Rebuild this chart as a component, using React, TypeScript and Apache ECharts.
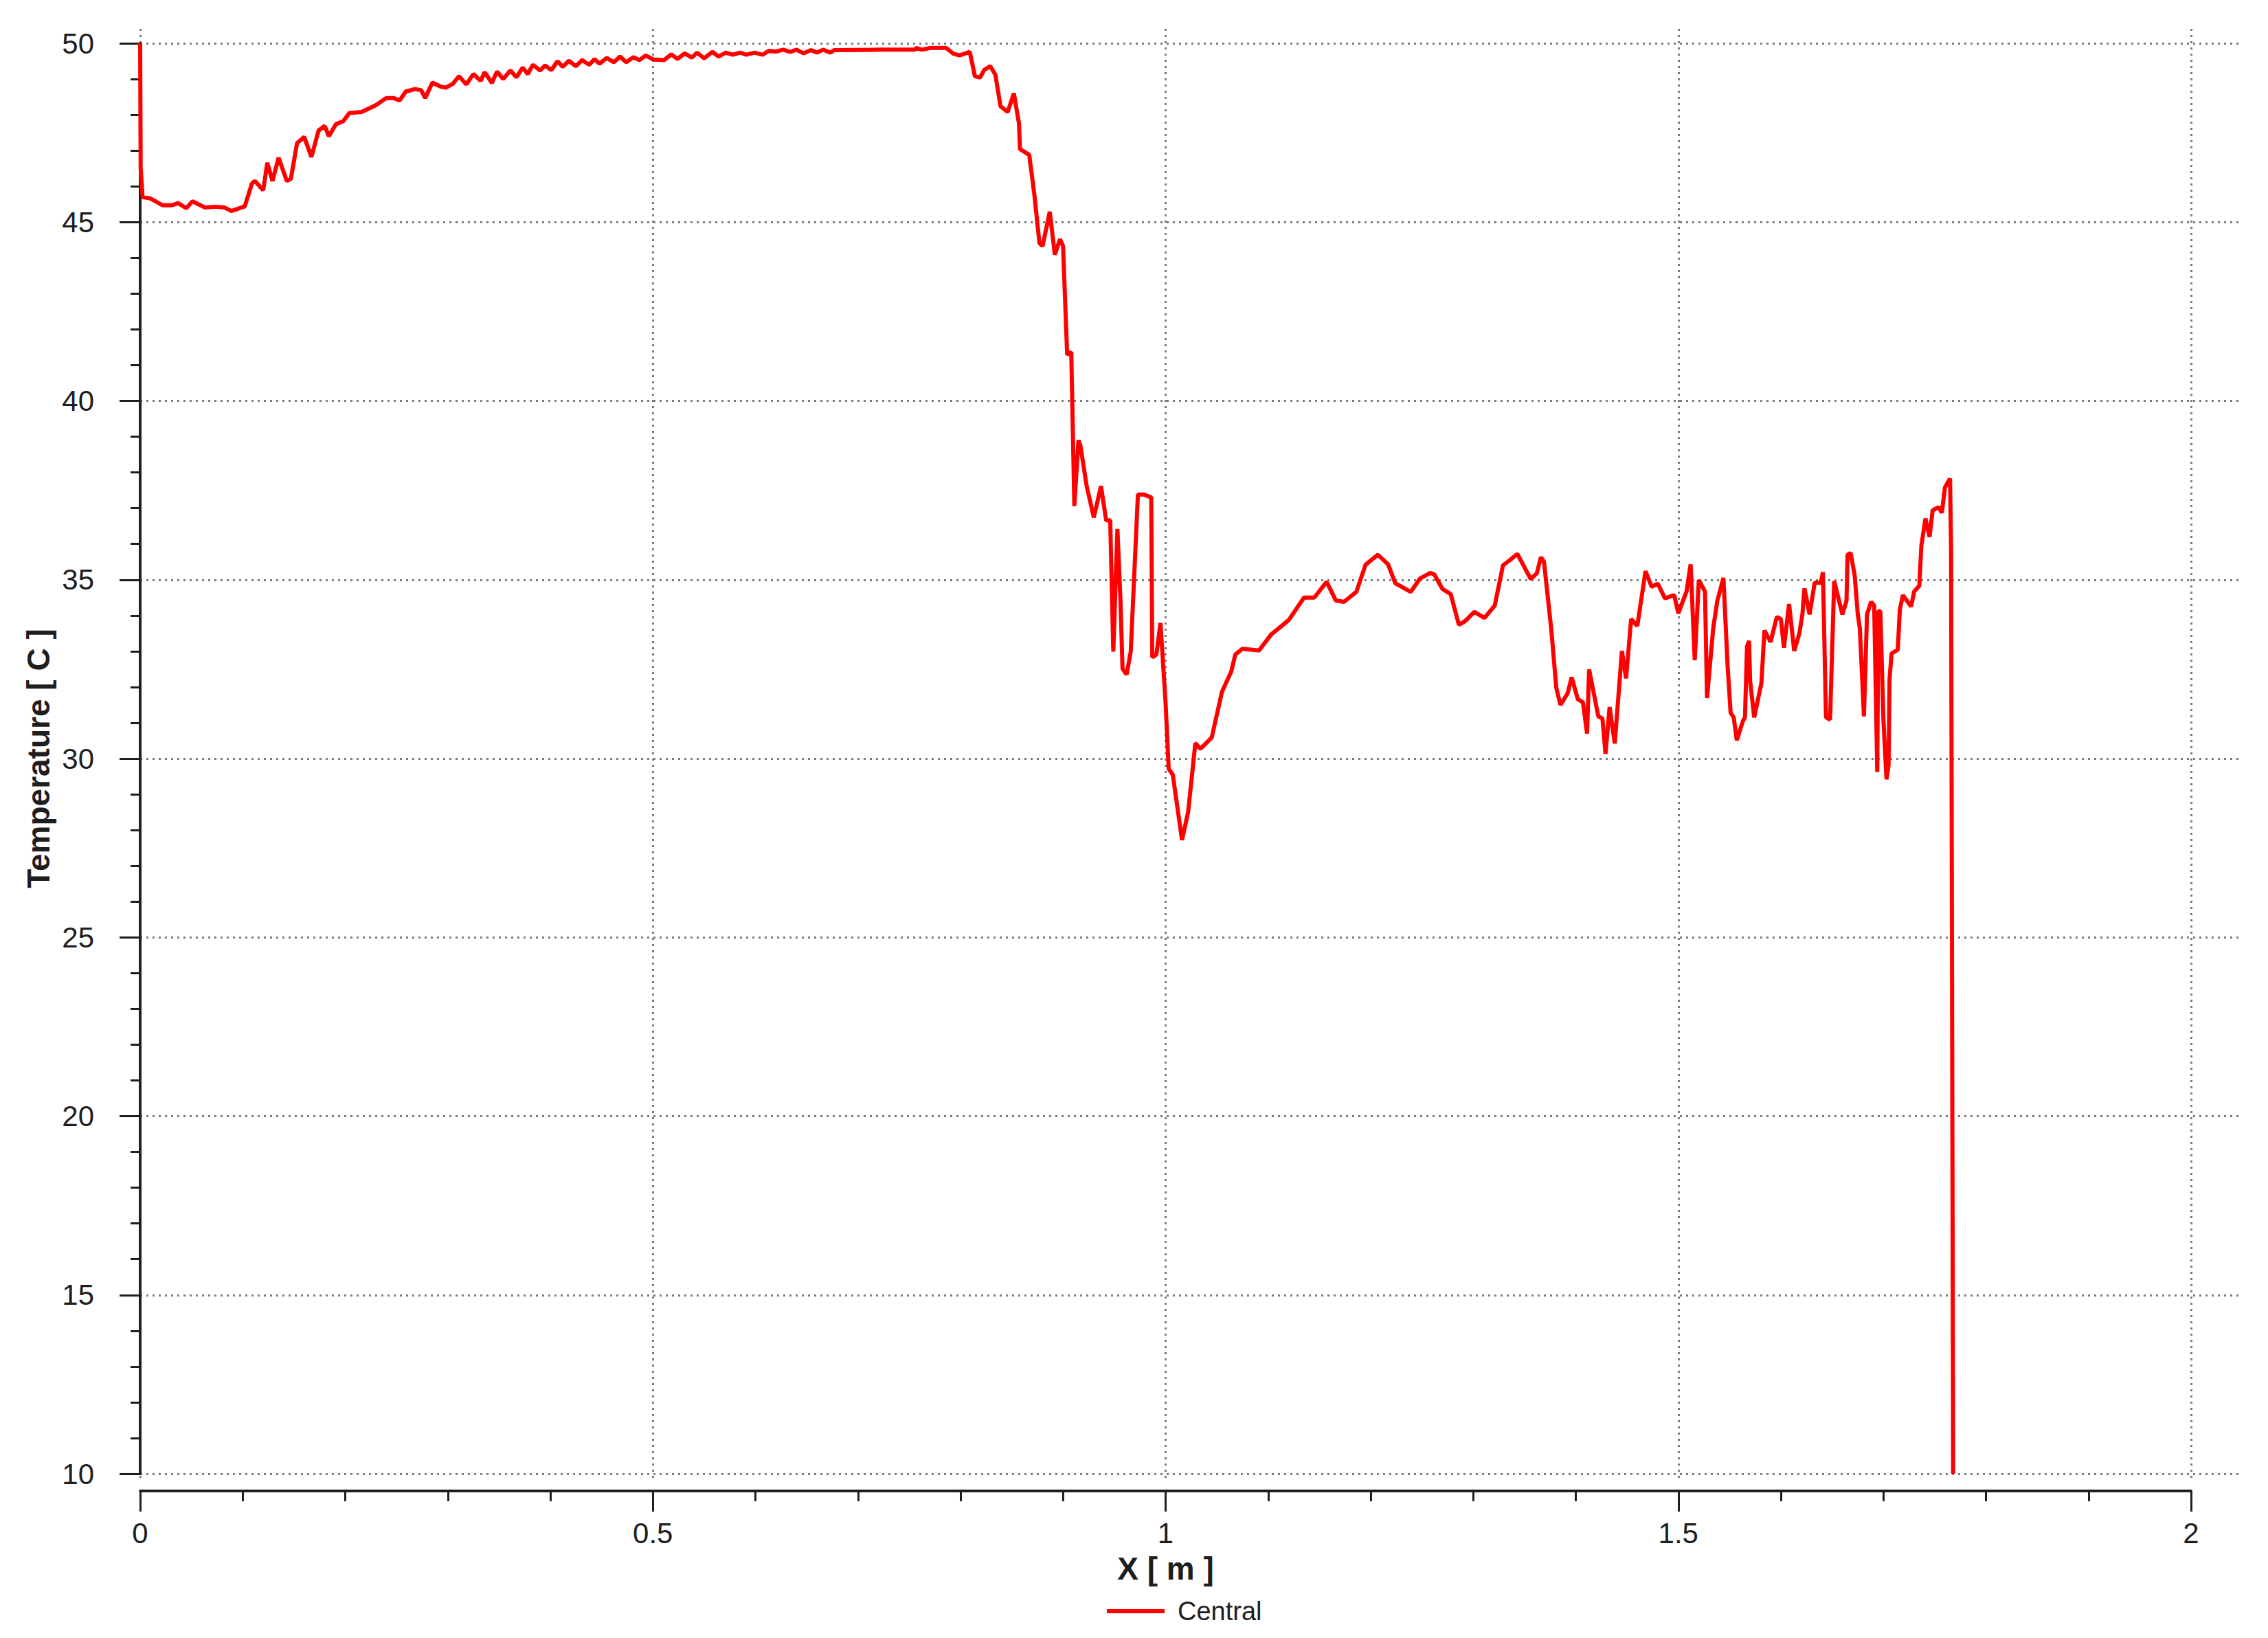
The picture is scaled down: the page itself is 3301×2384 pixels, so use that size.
import React, { useEffect, useRef } from "react";
import * as echarts from "echarts";

// ---- Data: [x (m), temperature (C)] ----
const segStart: number[][] = [
  [0, 50], [0.0005, 46.5], [0.0024, 45.7], [0.01, 45.66], [0.022, 45.47], [0.031, 45.47],
  [0.037, 45.53], [0.045, 45.39], [0.051, 45.58], [0.063, 45.41], [0.073, 45.43], [0.082, 45.41],
  [0.089, 45.31], [0.102, 45.44], [0.109, 46.08], [0.112, 46.15], [0.12, 45.89], [0.124, 46.66],
  [0.129, 46.15], [0.135, 46.8], [0.143, 46.15], [0.147, 46.21], [0.153, 47.21], [0.16, 47.38],
  [0.167, 46.82], [0.174, 47.56], [0.18, 47.69], [0.184, 47.4], [0.191, 47.74], [0.198, 47.82],
];
const segRise: number[][] = [
  [0.204, 48.05], [0.216, 48.08], [0.23, 48.27], [0.24, 48.47], [0.247, 48.47], [0.253, 48.4],
  [0.259, 48.65], [0.268, 48.72], [0.274, 48.69], [0.278, 48.47], [0.285, 48.9], [0.293, 48.79],
  [0.298, 48.76], [0.305, 48.87], [0.311, 49.08], [0.318, 48.85], [0.325, 49.14], [0.332, 48.95],
  [0.336, 49.19], [0.343, 48.89], [0.348, 49.21], [0.354, 49.0], [0.361, 49.24], [0.367, 49.05],
  [0.373, 49.32], [0.378, 49.14], [0.383, 49.4], [0.39, 49.24], [0.395, 49.38], [0.401, 49.25],
  [0.407, 49.5], [0.412, 49.34], [0.418, 49.51], [0.425, 49.36], [0.431, 49.53], [0.438, 49.4],
  [0.443, 49.56], [0.448, 49.43], [0.455, 49.59], [0.462, 49.47], [0.468, 49.63], [0.474, 49.47],
  [0.481, 49.61], [0.487, 49.53], [0.493, 49.66], [0.5, 49.55], [0.511, 49.53], [0.518, 49.69],
];
const segPlateau: number[][] = [
  [0.524, 49.56], [0.531, 49.72], [0.538, 49.6], [0.543, 49.74], [0.55, 49.58], [0.558, 49.76],
  [0.564, 49.63], [0.571, 49.74], [0.578, 49.68], [0.585, 49.74], [0.591, 49.68], [0.599, 49.74],
  [0.607, 49.68], [0.613, 49.79], [0.62, 49.77], [0.627, 49.82], [0.634, 49.76], [0.64, 49.82],
  [0.647, 49.72], [0.654, 49.81], [0.66, 49.74], [0.666, 49.82], [0.673, 49.74], [0.677, 49.81],
  [0.72, 49.82], [0.755, 49.82], [0.757, 49.87], [0.762, 49.82], [0.771, 49.87], [0.786, 49.87],
  [0.793, 49.71], [0.799, 49.66], [0.809, 49.76],
];
const segDrop: number[][] = [
  [0.814, 49.08], [0.819, 49.04], [0.823, 49.25], [0.829, 49.36], [0.834, 49.12], [0.839, 48.24],
  [0.846, 48.08], [0.852, 48.6], [0.857, 47.76], [0.858, 47.04], [0.867, 46.88], [0.872, 45.77],
  [0.877, 44.41], [0.88, 44.33], [0.887, 45.29], [0.892, 44.09], [0.897, 44.52], [0.9, 44.33],
  [0.904, 41.29], [0.908, 41.37], [0.911, 37.06], [0.915, 38.9], [0.917, 38.74], [0.923, 37.62],
  [0.93, 36.74], [0.937, 37.62], [0.942, 36.66], [0.946, 36.66], [0.949, 32.99], [0.953, 36.42],
  [0.956, 34.42], [0.958, 32.51], [0.962, 32.35], [0.966, 32.99], [0.973, 37.38], [0.979, 37.38],
  [0.986, 37.3], [0.987, 32.83], [0.991, 32.91], [0.995, 33.79],
];
const segRecovery: number[][] = [
  [1.0, 31.55], [1.003, 29.71], [1.007, 29.55], [1.016, 27.72], [1.022, 28.51], [1.029, 30.43],
  [1.034, 30.27], [1.045, 30.59], [1.055, 31.87], [1.064, 32.43], [1.068, 32.91], [1.075, 33.07],
  [1.091, 33.02], [1.103, 33.47], [1.12, 33.87], [1.135, 34.5], [1.145, 34.5], [1.157, 34.94],
  [1.166, 34.42], [1.174, 34.38], [1.186, 34.66], [1.195, 35.42], [1.207, 35.7], [1.217, 35.43],
  [1.224, 34.9], [1.239, 34.66], [1.248, 35.03], [1.258, 35.19], [1.262, 35.15], [1.27, 34.74],
  [1.278, 34.6], [1.286, 33.74], [1.292, 33.84], [1.301, 34.1],
];
const segNoisy: number[][] = [
  [1.311, 33.93], [1.321, 34.28], [1.329, 35.4], [1.335, 35.53], [1.343, 35.72], [1.349, 35.4],
  [1.356, 35.02], [1.362, 35.18], [1.366, 35.63], [1.369, 35.5], [1.376, 33.64], [1.381, 31.98],
  [1.385, 31.5], [1.392, 31.82], [1.396, 32.27], [1.402, 31.66], [1.407, 31.57], [1.411, 30.7],
  [1.413, 32.49], [1.422, 31.18], [1.426, 31.12], [1.429, 30.13], [1.433, 31.44], [1.438, 30.42],
  [1.445, 33.01], [1.449, 32.24], [1.454, 33.9], [1.46, 33.71], [1.468, 35.24], [1.474, 34.8],
  [1.48, 34.89], [1.487, 34.48], [1.496, 34.57], [1.5, 34.06], [1.508, 34.67], [1.512, 35.43],
  [1.516, 32.75], [1.52, 34.99], [1.526, 34.67], [1.528, 31.69], [1.534, 33.64], [1.538, 34.41],
  [1.544, 35.05], [1.548, 32.62], [1.551, 31.28], [1.554, 31.15], [1.557, 30.51], [1.563, 31.05],
  [1.565, 31.15], [1.567, 33.13], [1.569, 33.29], [1.57, 32.17], [1.574, 31.15], [1.581, 32.11],
  [1.584, 33.58], [1.59, 33.26], [1.596, 33.96], [1.6, 33.9],
];
const segEnd: number[][] = [
  [1.603, 33.1], [1.608, 34.32], [1.613, 33.01], [1.618, 33.5], [1.621, 34.03], [1.623, 34.76],
  [1.628, 34.03], [1.633, 34.92], [1.639, 34.92], [1.641, 35.21], [1.644, 31.15], [1.648, 31.09],
  [1.652, 34.96], [1.66, 34.03], [1.664, 34.41], [1.665, 35.69], [1.668, 35.75], [1.672, 35.12],
  [1.675, 34.03], [1.677, 33.64], [1.681, 31.18], [1.684, 34.03], [1.688, 34.38], [1.691, 34.28],
  [1.694, 29.62], [1.695, 34.12], [1.697, 34.12], [1.7, 31.09], [1.703, 29.42], [1.705, 29.81],
  [1.706, 32.24], [1.708, 32.94], [1.714, 33.04], [1.716, 34.16], [1.719, 34.57], [1.727, 34.25],
  [1.73, 34.67], [1.735, 34.83], [1.737, 35.95], [1.741, 36.71], [1.745, 36.2], [1.748, 36.94],
  [1.754, 37.03], [1.757, 36.87], [1.76, 37.58], [1.765, 37.83], [1.766, 35.8], [1.768, 10],
];

const seriesName = "Central";
const xTitle = "X [ m ]";
const yTitle = "Temperature [ C ]";
const xRange = [0, 2];
const yRange = [10, 50];

const FONT = "'Liberation Sans', Arial, sans-serif";
const AXIS_COLOR = "#1e1e1e";
const GRID_COLOR = "#7a7a7a";

export default function App() {
  const ref = useRef<HTMLDivElement>(null);

  useEffect(() => {
    if (!ref.current) return;
    const chart = echarts.init(ref.current, null, { renderer: "svg" });
    const data = [
      ...segStart, ...segRise, ...segPlateau, ...segDrop,
      ...segRecovery, ...segNoisy, ...segEnd,
    ];
    const hidden = {
      axisLine: { show: false },
      axisTick: { show: false },
      axisLabel: { show: false },
      minorTick: { show: false },
    };
    const dotted = { color: GRID_COLOR, width: 3, type: [3, 6] as any };

    chart.setOption({
      animation: false,
      backgroundColor: "#ffffff",
      grid: [
        // main grid: axes + data
        { left: 204, top: 63, width: 2985, height: 2082 },
        // horizontal dotted grid lines (extend right past x=2)
        { left: 204, top: 63, width: 3054, height: 2082 },
        // vertical dotted grid lines (extend slightly above/below)
        { left: 204, top: 42, width: 2985, height: 2114 },
      ],
      xAxis: [
        {
          gridIndex: 0,
          type: "value",
          min: xRange[0],
          max: xRange[1],
          interval: 0.5,
          position: "bottom",
          offset: 25,
          axisLine: { show: true, lineStyle: { color: AXIS_COLOR, width: 4 } },
          axisTick: { show: true, inside: false, length: 30, lineStyle: { color: AXIS_COLOR, width: 3 } },
          minorTick: { show: true, splitNumber: 5, length: 15, lineStyle: { color: AXIS_COLOR, width: 3 } },
          axisLabel: { show: true, fontSize: 42, color: AXIS_COLOR, fontFamily: FONT, margin: 40 },
          splitLine: { show: false },
          minorSplitLine: { show: false },
          name: xTitle,
          nameLocation: "middle",
          nameGap: 90,
          nameTextStyle: { fontSize: 46, fontWeight: "bold", color: AXIS_COLOR, fontFamily: FONT },
        },
        {
          gridIndex: 1,
          type: "value",
          min: 0,
          max: 2,
          ...hidden,
          splitLine: { show: false },
        },
        {
          gridIndex: 2,
          type: "value",
          min: xRange[0],
          max: xRange[1],
          interval: 0.5,
          ...hidden,
          splitLine: { show: true, lineStyle: dotted },
        },
      ],
      yAxis: [
        {
          gridIndex: 0,
          type: "value",
          min: yRange[0],
          max: yRange[1],
          interval: 5,
          position: "left",
          offset: 23,
          axisLine: { show: true, lineStyle: { color: AXIS_COLOR, width: 4 } },
          axisTick: { show: true, inside: false, length: 30, lineStyle: { color: AXIS_COLOR, width: 3 } },
          minorTick: { show: true, splitNumber: 5, length: 14, lineStyle: { color: AXIS_COLOR, width: 3 } },
          axisLabel: { show: true, fontSize: 42, color: AXIS_COLOR, fontFamily: FONT, margin: 44 },
          splitLine: { show: false },
          name: yTitle,
          nameLocation: "middle",
          nameGap: 96,
          nameTextStyle: { fontSize: 46, fontWeight: "bold", color: AXIS_COLOR, fontFamily: FONT },
        },
        {
          gridIndex: 1,
          type: "value",
          min: yRange[0],
          max: yRange[1],
          interval: 5,
          ...hidden,
          splitLine: { show: true, lineStyle: dotted },
        },
        {
          gridIndex: 2,
          type: "value",
          min: 0,
          max: 1,
          ...hidden,
          splitLine: { show: false },
        },
      ],
      legend: {
        data: [seriesName],
        left: 1606,
        top: 2321,
        icon: "rect",
        itemWidth: 84,
        itemHeight: 6,
        textStyle: { fontSize: 38, color: AXIS_COLOR, fontFamily: FONT, padding: [0, 0, 0, 14] },
      },
      series: [
        {
          name: seriesName,
          type: "line",
          xAxisIndex: 0,
          yAxisIndex: 0,
          data,
          showSymbol: false,
          symbol: "none",
          clip: false,
          lineStyle: { color: "#ff0000", width: 6 },
          itemStyle: { color: "#ff0000" },
          z: 10,
        },
      ],
    });
    return () => chart.dispose();
  }, []);

  return (
    <div
      ref={ref}
      style={{ position: "fixed", left: 0, top: 0, width: 3301, height: 2384, background: "#fff" }}
    />
  );
}
